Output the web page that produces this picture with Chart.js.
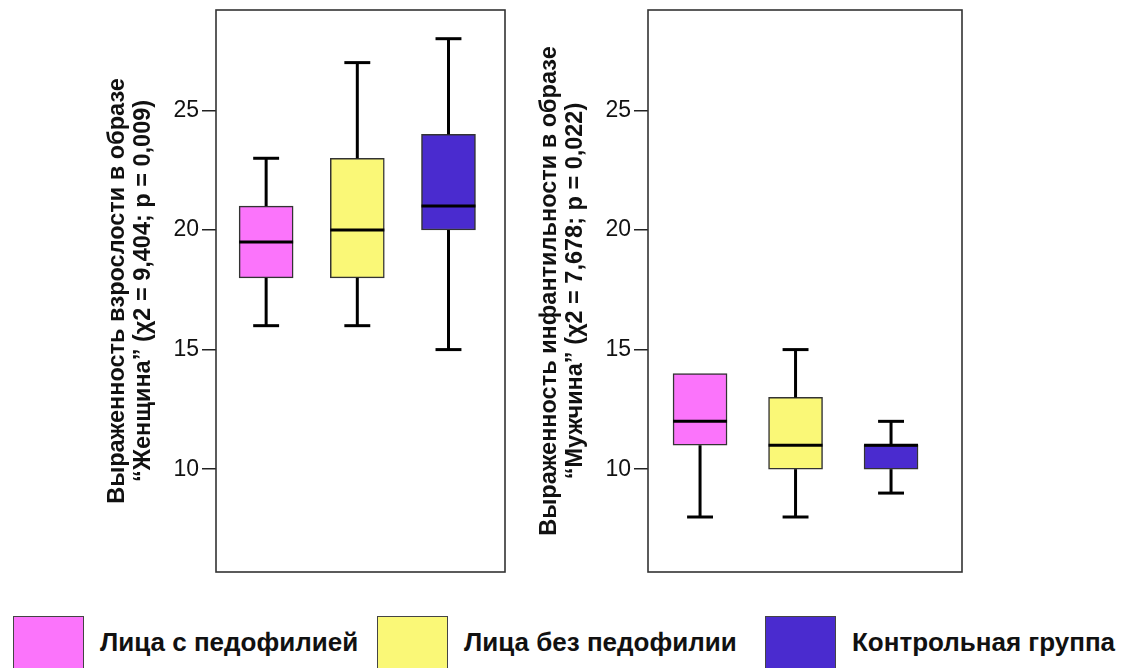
<!DOCTYPE html>
<html><head><meta charset="utf-8">
<script src="https://cdn.jsdelivr.net/npm/chart.js@4"></script>
<style>
body{margin:0;background:#fff;width:1132px;height:668px;overflow:hidden;position:relative;font-family:"Liberation Sans",Arial,sans-serif}
#w1{position:absolute;left:0;top:0;width:520px;height:600px}
#w2{position:absolute;left:520px;top:0;width:612px;height:600px}
.sw{position:absolute;top:616px;width:71px;height:60px;border:1px solid #444;box-sizing:border-box}
.lt{position:absolute;top:627px;font-weight:bold;font-size:26px;color:#111;line-height:30px;white-space:nowrap}
</style></head>
<body>
<div id="w1"><canvas id="c1"></canvas></div>
<div id="w2"><canvas id="c2"></canvas></div>
<div id="legend"></div>
<script>
// ---- data ----
const groups = ['Лица с педофилией', 'Лица без педофилии', 'Контрольная группа'];
const groupPos = [1, 2, 3];
const femMin = [16, 16, 15];
const femQ1  = [18, 18, 20];
const femMed = [19.5, 20, 21];
const femQ3  = [21, 23, 24];
const femMax = [23, 27, 28];
const maleMin = [8, 8, 9];
const maleQ1  = [11, 10, 10];
const maleMed = [12, 11, 11];
const maleQ3  = [14, 13, 11];
const maleMax = [14, 15, 12];
const yTicks = [10, 15, 20, 25];
const femTitle = ['Выраженность взрослости в образе', '“Женщина” (χ2 = 9,404; p = 0,009)'];
const maleTitle = ['Выраженность инфантильности в образе', '“Мужчина” (χ2 = 7,678; p = 0,022)'];
const groupColors = ['#FB74FB', '#FAF877', '#4A2BCF'];

// ---- legend ----
const legendSwX = [13, 377, 765];
const lg = document.getElementById('legend');
groups.forEach((g, i) => {
  const s = document.createElement('div'); s.className = 'sw';
  s.style.left = legendSwX[i] + 'px'; s.style.background = groupColors[i];
  lg.appendChild(s);
  const t = document.createElement('div'); t.className = 'lt';
  t.style.left = (legendSwX[i] + 87) + 'px'; t.textContent = g;
  lg.appendChild(t);
});

function makeBoxPlugin(mn, q1, med, q3, mx) {
  return {
    id: 'boxWhisk',
    afterDatasetsDraw(chart) {
      const {ctx, scales: {x, y}} = chart;
      const meta = chart.getDatasetMeta(0);
      ctx.save();
      ctx.strokeStyle = '#000'; ctx.lineWidth = 3; ctx.lineCap = 'butt';
      const line = (x1, y1, x2, y2) => { ctx.beginPath(); ctx.moveTo(x1, y1); ctx.lineTo(x2, y2); ctx.stroke(); };
      groupPos.forEach((p, i) => {
        const cx = x.getPixelForValue(p);
        const bw = meta.data[i].width;
        const cap = bw * 0.24;
        if (mx[i] > q3[i]) { line(cx, y.getPixelForValue(q3[i]), cx, y.getPixelForValue(mx[i])); line(cx - cap, y.getPixelForValue(mx[i]), cx + cap, y.getPixelForValue(mx[i])); }
        if (mn[i] < q1[i]) { line(cx, y.getPixelForValue(q1[i]), cx, y.getPixelForValue(mn[i])); line(cx - cap, y.getPixelForValue(mn[i]), cx + cap, y.getPixelForValue(mn[i])); }
        line(cx - bw / 2, y.getPixelForValue(med[i]), cx + bw / 2, y.getPixelForValue(med[i]));
      });
      // frame
      const a = chart.chartArea;
      ctx.strokeStyle = '#333'; ctx.lineWidth = 1.6;
      ctx.strokeRect(a.left, a.top, a.right - a.left, a.bottom - a.top);
      ctx.restore();
    }
  };
}

function makeChart(id, mn, q1, med, q3, mx, title, xMin, xMax, pad) {
  return new Chart(document.getElementById(id), {
    type: 'bar',
    data: {
      datasets: [{
        data: groupPos.map((p, i) => ({x: p, y: [q1[i], q3[i]]})),
        backgroundColor: groupColors,
        borderColor: '#333',
        borderWidth: 1.5,
        borderSkipped: false,
        barThickness: 54
      }]
    },
    options: {
      responsive: true, maintainAspectRatio: false, animation: false,
      layout: {padding: pad},
      plugins: {legend: {display: false}, tooltip: {enabled: false}},
      scales: {
        x: {type: 'linear', min: xMin, max: xMax, display: false, offset: false, grid: {offset: false}},
        y: {
          min: 5.7, max: 29.2,
          border: {display: false},
          grid: {drawOnChartArea: false, drawTicks: true, tickLength: 14, color: '#222', lineWidth: 1.5},
          ticks: {font: {family: 'Liberation Sans', size: 23}, color: '#111', padding: 3, includeBounds: false},
          afterBuildTicks: s => { s.ticks = yTicks.map(v => ({value: v})); },
          afterFit: s => { s.width = 116; s.paddingTop = 0; s.paddingBottom = 0; },
          title: {display: true, text: title, color: '#111', padding: {top: 5, bottom: 0},
                  font: {family: 'Liberation Sans', size: 23.5, weight: 'bold', lineHeight: 1.08}}
        }
      }
    },
    plugins: [makeBoxPlugin(mn, q1, med, q3, mx)]
  });
}

makeChart('c1', femMin, femQ1, femMed, femQ3, femMax, femTitle, 0.45, 3.62, {left: 100, top: 10, right: 15, bottom: 28});
makeChart('c2', maleMin, maleQ1, maleMed, maleQ3, maleMax, maleTitle, 0.455, 3.743, {left: 12, top: 10, right: 170, bottom: 28});
</script>
</body></html>
